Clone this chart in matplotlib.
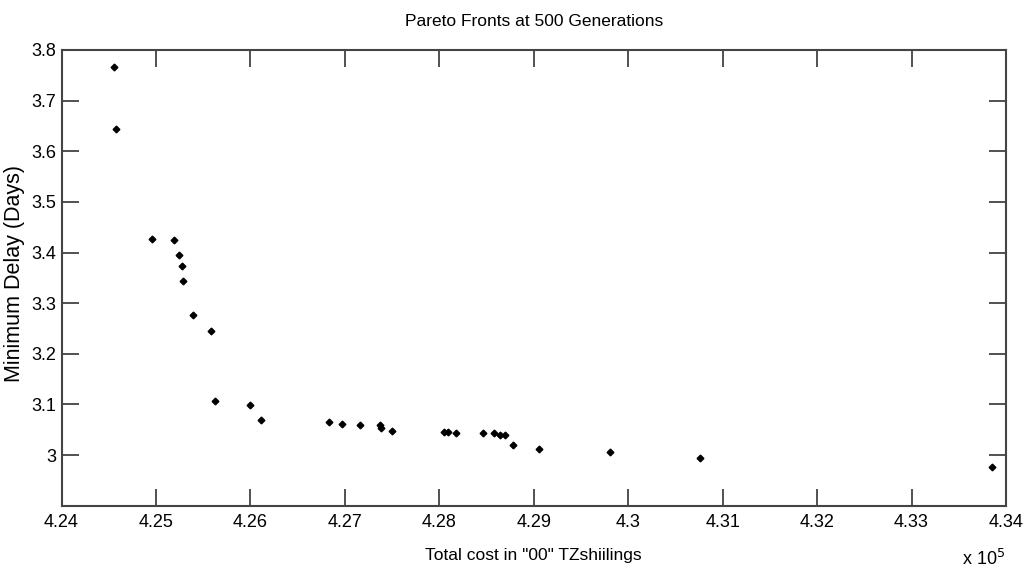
import numpy as np
import matplotlib.pyplot as plt

# total cost (in "00" TZ shillings) and minimum delay
cost = [424556, 424580, 424960, 425190, 425240, 425280, 425290, 425390,
        425580, 425620, 426000, 426110, 426830, 426970, 427160, 427370,
        427380, 427500, 428050, 428090, 428180, 428460, 428580, 428640,
        428700, 428780, 429060, 429810, 430760, 433850]
delay = [3.766, 3.643, 3.427, 3.424, 3.396, 3.374, 3.343, 3.277,
         3.244, 3.107, 3.099, 3.069, 3.066, 3.061, 3.059, 3.059,
         3.054, 3.048, 3.046, 3.046, 3.044, 3.044, 3.044, 3.040,
         3.040, 3.020, 3.012, 3.005, 2.995, 2.977]

xticks = [4.24, 4.25, 4.26, 4.27, 4.28, 4.29, 4.3, 4.31, 4.32, 4.33, 4.34]
yticks = [3.0, 3.1, 3.2, 3.3, 3.4, 3.5, 3.6, 3.7, 3.8]

plt.rcParams['font.family'] = 'Liberation Sans'

fig = plt.figure(figsize=(10.26, 5.72), dpi=100)
ax = fig.add_axes([0.060, 0.116, 0.9205, 0.7966])

x = np.array(cost) / 1e5
ax.plot(x, delay, linestyle='none', marker='D', markersize=3.4, color='black')

ax.set_xlim(4.24, 4.34)
ax.set_ylim(2.9, 3.8)
ax.set_xticks(xticks)
ax.set_yticks(yticks)
ax.set_xticklabels(['%g' % t for t in xticks], fontsize=13)
ax.set_yticklabels(['%g' % t for t in yticks], fontsize=13)
ax.tick_params(direction='in', length=12, width=1.2, color='#333333',
               top=True, right=True, pad=6)
ax.tick_params(axis='y', pad=4)
for s in ax.spines.values():
    s.set_color('#444444')
    s.set_linewidth(1.5)

ax.set_title('Pareto Fronts at 500 Generations', fontsize=12.5, pad=17)
ax.set_xlabel('Total cost in "00" TZshiilings', fontsize=12.5, labelpad=12)
ax.set_ylabel('Minimum Delay (Days)', fontsize=15.5)
ax.yaxis.set_label_coords(-0.039, 0.51)
fig.text(0.980, 0.006, r'x 10$^5$', fontsize=13, ha='right', va='bottom')

fig.savefig('out.png', dpi=100)
